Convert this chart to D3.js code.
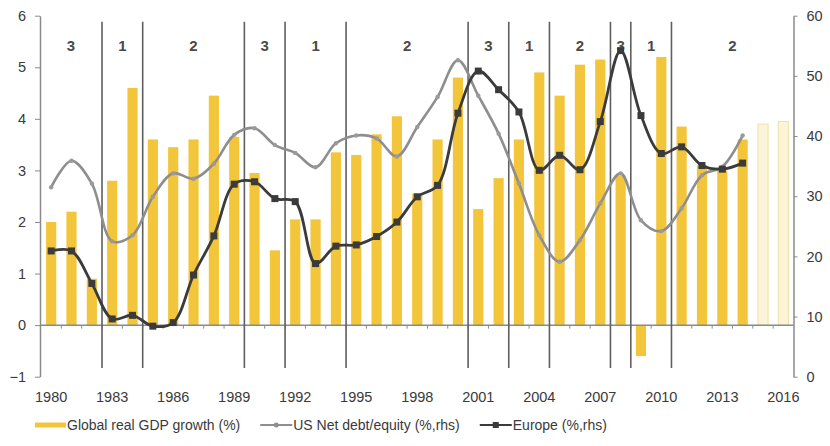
<!DOCTYPE html>
<html>
<head>
<meta charset="utf-8">
<script src="https://cdn.jsdelivr.net/npm/d3@7/dist/d3.min.js"></script>
<style>
  html, body { margin: 0; padding: 0; background: #fff; }
  svg { display: block; font-family: "Liberation Sans", Arial, sans-serif; }
</style>
</head>
<body>
<svg id="chart" width="830" height="446"></svg>
<script>
// Years on the category axis
const years = [1980, 1981, 1982, 1983, 1984, 1985, 1986, 1987, 1988, 1989,
  1990, 1991, 1992, 1993, 1994, 1995, 1996, 1997, 1998, 1999,
  2000, 2001, 2002, 2003, 2004, 2005, 2006, 2007, 2008, 2009,
  2010, 2011, 2012, 2013, 2014, 2015, 2016];

// Global real GDP growth (%), left axis; the last two years are forecasts
const gdpGrowth = [2.0, 2.2, 0.9, 2.8, 4.6, 3.6, 3.45, 3.6, 4.45, 3.65,
  2.95, 1.45, 2.05, 2.05, 3.35, 3.3, 3.7, 4.05, 2.55, 3.6,
  4.8, 2.25, 2.85, 3.6, 4.9, 4.45, 5.05, 5.15, 2.9, -0.6,
  5.2, 3.85, 3.1, 3.0, 3.6, 3.9, 3.95];
const forecastYears = [2015, 2016];

// US net debt/equity (%), right axis, 1980-2014
const usDebtEquity = [31.5, 35.9, 32.1, 22.5, 23.5, 29.9, 33.8, 32.9, 35.4, 40.2,
  41.3, 38.5, 37.2, 34.8, 38.8, 40.1, 39.6, 36.6, 41.5, 46.5,
  52.6, 46.7, 40.4, 32.1, 23.5, 19.1, 22.7, 28.8, 33.8, 26.0,
  24.2, 28.0, 33.5, 34.9, 40.1];

// Europe net debt/equity (%), right axis, 1980-2014
const europeDebtEquity = [20.9, 20.9, 15.5, 9.6, 10.2, 8.4, 9.0, 16.9, 23.4, 32.0,
  32.4, 29.6, 29.1, 18.8, 21.7, 21.9, 23.3, 25.7, 29.9, 31.8,
  43.8, 50.8, 47.7, 44.0, 34.3, 36.8, 34.4, 42.4, 54.2, 43.4,
  37.1, 38.2, 35.1, 34.5, 35.5];

// Cycle phases: first year of each phase and its number
const phaseStarts = [1980, 1983, 1985, 1990, 1992, 1995, 2001, 2003, 2005, 2008, 2009, 2011];
const phaseLabels = ["3", "1", "2", "3", "1", "2", "3", "1", "2", "3", "1", "2"];

// Axis ticks
const leftTicks = [-1, 0, 1, 2, 3, 4, 5, 6];
const rightTicks = [0, 10, 20, 30, 40, 50, 60];
const yearLabels = [1980, 1983, 1986, 1989, 1992, 1995, 1998, 2001, 2004, 2007, 2010, 2013, 2016];

const legendLabels = ["Global real GDP growth (%)", "US Net debt/equity (%,rhs)", "Europe (%,rhs)"];

// ---- layout ----
const svg = d3.select("#chart");
const plotLeft = 40, plotRight = 793.5, plotTop = 15.7, plotBottom = 376.7;

const x = d3.scaleBand().domain(years).range([plotLeft + 1, plotRight])
  .paddingInner(0.5).paddingOuter(0.25);
const step = x.step();
const cellLeft = y => x(y) - step * 0.25;
const cellCenter = y => x(y) + x.bandwidth() / 2;

const yL = d3.scaleLinear().domain([-1, 6]).range([plotBottom, plotTop]);
const yR = d3.scaleLinear().domain([0, 60]).range([plotBottom, plotTop]);

const axisColor = "#8a8a8a";
const textColor = "#3a3a3a";
const barColor = "#F2C53A";

// ---- bars ----
svg.append("g").selectAll("rect")
  .data(years.map((yr, i) => ({ yr, v: gdpGrowth[i] })))
  .join("rect")
  .attr("x", d => x(d.yr))
  .attr("width", x.bandwidth())
  .attr("y", d => yL(Math.max(0, d.v)))
  .attr("height", d => Math.abs(yL(d.v) - yL(0)))
  .attr("fill", d => forecastYears.includes(d.yr) ? "#fcf4d6" : barColor)
  .attr("stroke", d => forecastYears.includes(d.yr) ? "#efe2a6" : "none")
  .attr("stroke-width", 1);

// ---- zero line with small ticks at the year boundaries ----
const zeroY = yL(0);
svg.append("line")
  .attr("x1", plotLeft).attr("x2", plotRight)
  .attr("y1", zeroY).attr("y2", zeroY)
  .attr("stroke", axisColor).attr("stroke-width", 1.5);
svg.append("g").selectAll("line")
  .data(years.slice(1))
  .join("line")
  .attr("x1", d => cellLeft(d)).attr("x2", d => cellLeft(d))
  .attr("y1", zeroY).attr("y2", zeroY + 3.5)
  .attr("stroke", axisColor).attr("stroke-width", 1);

// ---- phase separators and numbers ----
svg.append("g").selectAll("line")
  .data(phaseStarts.slice(1))
  .join("line")
  .attr("x1", d => cellLeft(d)).attr("x2", d => cellLeft(d))
  .attr("y1", 21.7).attr("y2", 368)
  .attr("stroke", "#5f5f5f").attr("stroke-width", 1.6);

const phaseBounds = phaseStarts.map((s, i) => {
  const a = i === 0 ? plotLeft : cellLeft(s);
  const b = i < phaseStarts.length - 1 ? cellLeft(phaseStarts[i + 1]) : plotRight;
  return { label: phaseLabels[i], cx: (a + b) / 2 };
});
svg.append("g").selectAll("text")
  .data(phaseBounds)
  .join("text")
  .attr("x", d => d.cx).attr("y", 50.5)
  .attr("text-anchor", "middle")
  .attr("font-size", 15).attr("font-weight", "bold")
  .attr("fill", "#4a4a4a")
  .text(d => d.label);

// ---- lines ----
const usPts = usDebtEquity.map((v, i) => ({ yr: years[i], v }));
const euPts = europeDebtEquity.map((v, i) => ({ yr: years[i], v }));
const line = d3.line().x(d => cellCenter(d.yr)).y(d => yR(d.v)).curve(d3.curveCatmullRom.alpha(0.5));

svg.append("path").datum(usPts)
  .attr("d", line).attr("fill", "none")
  .attr("stroke", "#8e8e8e").attr("stroke-width", 2.6);
svg.append("g").selectAll("circle")
  .data(usPts)
  .join("circle")
  .attr("cx", d => cellCenter(d.yr)).attr("cy", d => yR(d.v))
  .attr("r", 2.2).attr("fill", "#9a9a9a");

svg.append("path").datum(euPts)
  .attr("d", line).attr("fill", "none")
  .attr("stroke", "#3b3b3b").attr("stroke-width", 2.8);
svg.append("g").selectAll("rect")
  .data(euPts)
  .join("rect")
  .attr("x", d => cellCenter(d.yr) - 3.5).attr("y", d => yR(d.v) - 3.5)
  .attr("width", 7).attr("height", 7)
  .attr("fill", "#3b3b3b");

// ---- axes ----
const styleAxis = g => {
  g.selectAll(".domain").attr("stroke", axisColor).attr("stroke-width", 1.5);
  g.selectAll(".tick line").attr("stroke", axisColor).attr("stroke-width", 1);
  g.selectAll(".tick text").attr("fill", textColor)
    .attr("font-size", 14.5).attr("font-family", "Liberation Sans, Arial, sans-serif");
};

svg.append("g")
  .attr("transform", `translate(${plotLeft},0)`)
  .call(d3.axisLeft(yL).tickValues(leftTicks).tickFormat(d3.format("d"))
    .tickSize(5).tickSizeOuter(0).tickPadding(9))
  .call(styleAxis);

svg.append("g")
  .attr("transform", `translate(${plotRight},0)`)
  .call(d3.axisRight(yR).tickValues(rightTicks).tickFormat(d3.format("d"))
    .tickSize(4).tickSizeOuter(0).tickPadding(9))
  .call(styleAxis);

svg.append("g")
  .attr("transform", `translate(0,380)`)
  .call(d3.axisBottom(x).tickValues(yearLabels).tickSize(0).tickPadding(12))
  .call(styleAxis)
  .call(g => g.select(".domain").remove());

// ---- legend ----
const legend = svg.append("g").attr("font-size", 14).attr("fill", textColor);
const ly = 425;
legend.append("rect").attr("x", 35).attr("y", ly - 2.5).attr("width", 31).attr("height", 5).attr("fill", barColor);
const t1 = legend.append("text").attr("x", 67).attr("y", ly + 5).text(legendLabels[0]);
let cursor = 67 + t1.node().getComputedTextLength() + 20;

legend.append("line").attr("x1", cursor).attr("x2", cursor + 32).attr("y1", ly).attr("y2", ly)
  .attr("stroke", "#8e8e8e").attr("stroke-width", 2);
legend.append("circle").attr("cx", cursor + 16).attr("cy", ly).attr("r", 2.5).attr("fill", "#8e8e8e");
const t2 = legend.append("text").attr("x", cursor + 33).attr("y", ly + 5).text(legendLabels[1]);
cursor = cursor + 33 + t2.node().getComputedTextLength() + 20;

legend.append("line").attr("x1", cursor).attr("x2", cursor + 32).attr("y1", ly).attr("y2", ly)
  .attr("stroke", "#3b3b3b").attr("stroke-width", 2);
legend.append("rect").attr("x", cursor + 13).attr("y", ly - 3).attr("width", 6).attr("height", 6).attr("fill", "#3b3b3b");
legend.append("text").attr("x", cursor + 33).attr("y", ly + 5).text(legendLabels[2]);
</script>
</body>
</html>
